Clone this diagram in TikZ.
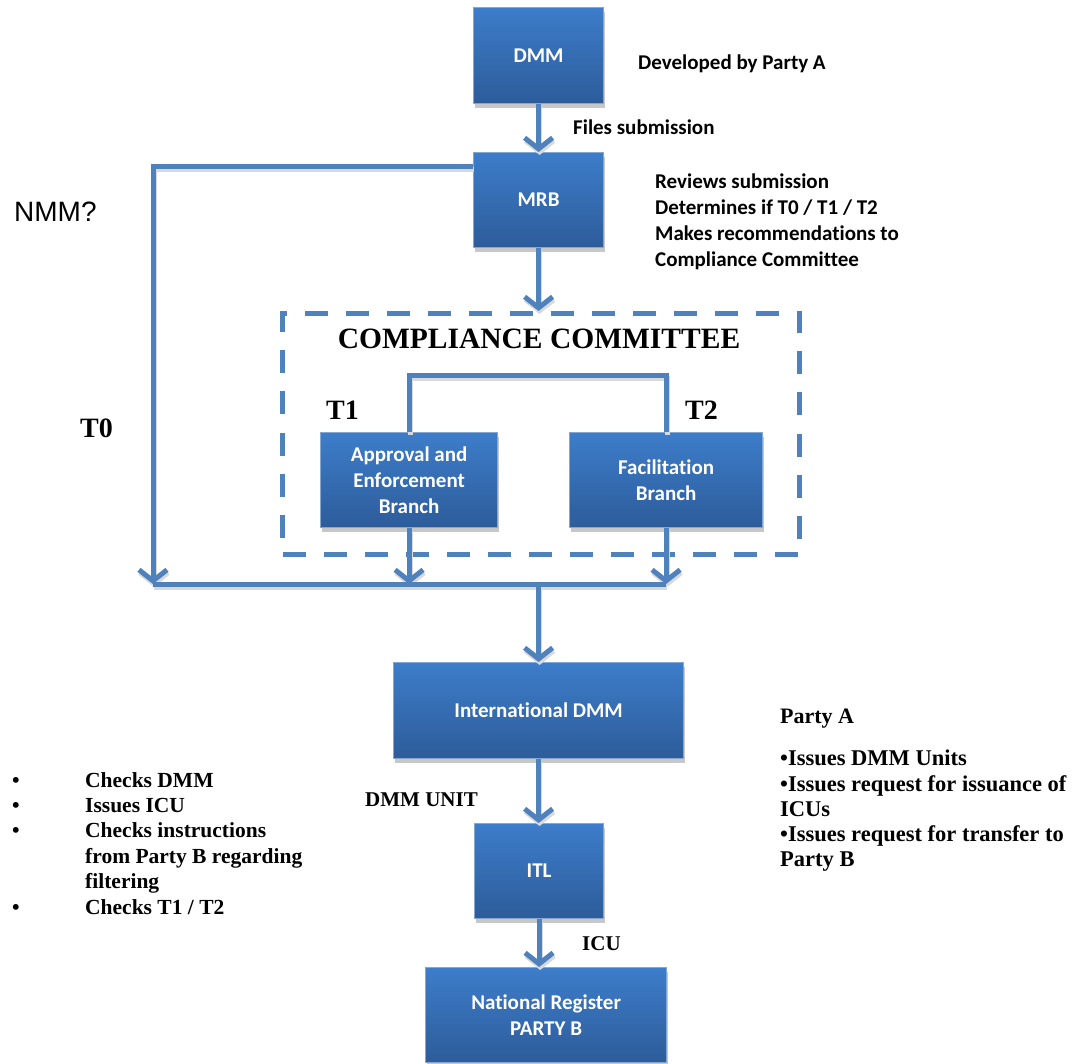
\documentclass[tikz,border=0pt]{standalone}
\usepackage{fontspec}
\setmainfont{Liberation Serif}
\newfontfamily\calibri[Ligatures=CommonOff]{Carlito}
\newfontfamily\arial{Liberation Sans}
\usepackage{tikz}
\usetikzlibrary{positioning, arrows.meta, shadows}

\definecolor{boxtop}{HTML}{3D7DCA}
\definecolor{boxbot}{HTML}{2D5C9A}
\definecolor{linkblue}{HTML}{4F81BD}

\tikzset{
  blockbox/.style={draw=linkblue!70!white, line width=1.2pt, top color=boxtop, bottom color=boxbot,
    text=white, font=\calibri\bfseries\fontsize{21}{26}\selectfont, align=center,
    inner sep=0pt, anchor=north west,
    drop shadow={shadow xshift=1pt, shadow yshift=-4pt, fill=black!22, opacity=1}},
  linkline/.style={draw=linkblue, line width=5pt,
    preaction={draw=black!15, line width=5pt, transform canvas={shift={(1pt,-3pt)}}}},
  link/.style={linkline, -{Straight Barb[length=11pt, width=28pt, line width=5pt]}},
  note/.style={font=\calibri\bfseries\fontsize{21}{26}\selectfont, inner sep=0pt, anchor=west},
  serifnote/.style={font=\bfseries\fontsize{21.5}{25.4}\selectfont, inner sep=0pt, anchor=west}
}

\begin{document}
\begin{tikzpicture}[x=1pt, y=-1pt]
    \useasboundingbox (0,0) rectangle (1079,1064);

    % Main boxes
    \node[blockbox, minimum width=130pt, minimum height=96pt] (dmm) at (473,7) {DMM};
    \node[blockbox, minimum width=130pt, minimum height=95pt] (mrb) at (473,152) {MRB};
    \node[blockbox, minimum width=177pt, minimum height=95pt] (aeb) at (320,432) {Approval and\\Enforcement\\Branch};
    \node[blockbox, minimum width=193pt, minimum height=95pt] (fb) at (569,432) {Facilitation\\Branch};
    \node[blockbox, minimum width=290pt, minimum height=96pt] (idmm) at (393,662) {International DMM};
    \node[blockbox, minimum width=129pt, minimum height=95pt] (itl) at (474,823) {ITL};
    \node[blockbox, minimum width=241pt, minimum height=95pt] (nreg) at (425,967) {National Register\\PARTY B};

    % Compliance committee frame
    \node[draw=linkblue, line width=5pt, dash pattern=on 23pt off 18pt, anchor=north west,
          minimum width=517pt, minimum height=241pt, inner sep=0pt] (cc) at (280,311) {};
    \node[font=\bfseries\fontsize{29.5}{32}\selectfont, inner sep=0pt] (cctitle) at (539,339) {COMPLIANCE COMMITTEE};

    % Side labels
    \node[note] (devby) at (638,64) {Developed by Party A};
    \node[note] (files) at (573,127) {Files submission};
    \node[note, anchor=north west, align=left] (reviews) at (655,174)
        {Reviews submission\\Determines if T0 / T1 / T2\\Makes recommendations to\\Compliance Committee};
    \node[font=\arial\fontsize{28}{32}\selectfont, inner sep=0pt, anchor=west] (nmm) at (14,212) {NMM?};
    \node[serifnote, font=\bfseries\fontsize{28}{30}\selectfont] (tzero) at (80,428) {T0};
    \node[serifnote, font=\bfseries\fontsize{28}{30}\selectfont] (tone) at (326,410) {T1};
    \node[serifnote, font=\bfseries\fontsize{28}{30}\selectfont] (ttwo) at (685,410) {T2};
    \node[serifnote, font=\bfseries\fontsize{21}{25}\selectfont] (unit) at (365,800) {DMM UNIT};
    \node[serifnote, font=\bfseries\fontsize{21}{25}\selectfont] (icu) at (582,944) {ICU};
    \node[serifnote, font=\bfseries\fontsize{22}{25}\selectfont] (partya) at (780,719) {Party A};
    \node[serifnote, font=\bfseries\fontsize{22.5}{25.2}\selectfont, anchor=north west, align=left] (partyalist) at (780,750)
        {\textbullet{}Issues DMM Units\\\textbullet{}Issues request for issuance of\\ICUs\\\textbullet{}Issues request for transfer to\\Party B};
    \node[serifnote, anchor=north west, align=left] (itlchecks) at (12,772)
        {\makebox[73pt][l]{\textbullet}Checks DMM\\
         \makebox[73pt][l]{\textbullet}Issues ICU\\
         \makebox[73pt][l]{\textbullet}Checks instructions\\
         \hspace*{73pt}from Party B regarding\\
         \hspace*{73pt}filtering\\
         \makebox[73pt][l]{\textbullet}Checks T1 / T2};

    % Routing points
    \coordinate (tzerotop) at (153,167);
    \coordinate (tzerobot) at (153,584);
    \coordinate (busmid) at (idmm.north |- tzerobot);

    % Connectors
    \draw[link] (dmm.south) -- (dmm.south |- mrb.north);
    \draw[link] (mrb.south) -- (mrb.south |- cc.north);
    \draw[link] (mrb.west |- tzerotop) -- (tzerotop) -- (tzerobot);
    \draw[linkline] (aeb.north) -- ++(0,-56) -| (fb.north);
    \draw[link] (aeb.south) -- (aeb.south |- tzerobot);
    \draw[link] (fb.south) -- (fb.south |- tzerobot);
    \draw[linkline] (tzerobot) -- (fb.south |- tzerobot);
    \draw[link] (busmid) -- (idmm.north);
    \draw[link] (idmm.south) -- (idmm.south |- itl.north);
    \draw[link] (itl.south) -- (itl.south |- nreg.north);
\end{tikzpicture}
\end{document}
